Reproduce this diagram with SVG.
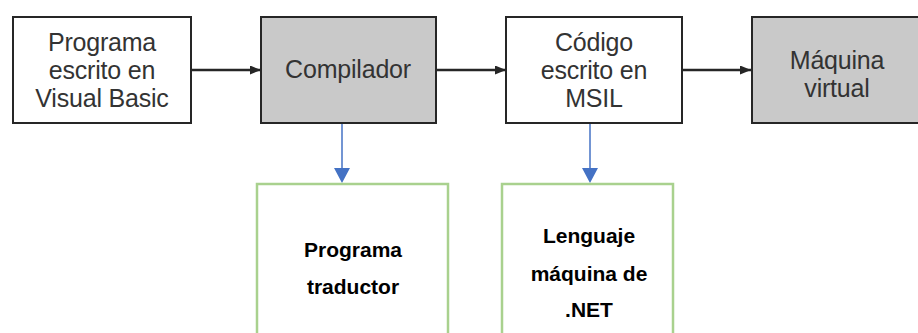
<svg xmlns="http://www.w3.org/2000/svg" width="918" height="333" viewBox="0 0 918 333">
<style>
.box{stroke:#262626;stroke-width:2}
.w{fill:#ffffff}
.g{fill:#c9c9c9}
.t{font-family:"Liberation Sans",Arial,sans-serif;font-size:25px;fill:#333333;text-anchor:middle;letter-spacing:-0.2px}
.gb{fill:#ffffff;stroke:#a9d18e;stroke-width:2.5}
.bt{font-family:"Liberation Sans",Arial,sans-serif;font-size:21px;font-weight:bold;fill:#000000;text-anchor:middle}
.blk{stroke:#262626;stroke-width:2.5;fill:none}
.blu{stroke:#4472c4;stroke-width:1.5;fill:none}
</style>
<defs>
<marker id="ah" markerWidth="11" markerHeight="9" refX="11" refY="4.5" orient="auto" markerUnits="userSpaceOnUse">
<path d="M0,0 L11,4.5 L0,9 Z" fill="#262626"/>
</marker>
</defs>
<rect width="918" height="333" fill="#ffffff"/>
<g id="connectors">
<line class="blk" x1="192" y1="70" x2="261" y2="70" marker-end="url(#ah)"/>
<line class="blk" x1="436" y1="70" x2="506" y2="70" marker-end="url(#ah)"/>
<line class="blk" x1="682" y1="70" x2="751" y2="70" marker-end="url(#ah)"/>
<line class="blu" x1="342" y1="123" x2="342" y2="168"/>
<path d="M334,168 L350,168 L342,183 Z" fill="#4472c4"/>
<line class="blu" x1="590" y1="123" x2="590" y2="168"/>
<path d="M582,168 L598,168 L590,183 Z" fill="#4472c4"/>
</g>
<g id="n1">
<rect class="box w" x="13" y="17" width="178" height="106"/>
<text class="t" x="102" y="51">Programa</text>
<text class="t" x="102" y="79">escrito en</text>
<text class="t" x="102" y="107">Visual Basic</text>
</g>
<g id="n2">
<rect class="box g" x="261" y="17" width="175" height="106"/>
<text class="t" x="348" y="78">Compilador</text>
</g>
<g id="n3">
<rect class="box w" x="506" y="17" width="176" height="106"/>
<text class="t" x="594" y="51">Código</text>
<text class="t" x="594" y="79">escrito en</text>
<text class="t" x="594" y="107">MSIL</text>
</g>
<g id="n4">
<rect class="box g" x="752" y="17" width="170" height="106"/>
<text class="t" x="837" y="69">Máquina</text>
<text class="t" x="837" y="97">virtual</text>
</g>
<g id="n5">
<rect class="gb" x="257" y="184" width="191" height="160"/>
<text class="bt" x="353" y="257">Programa</text>
<text class="bt" x="353" y="294">traductor</text>
</g>
<g id="n6">
<rect class="gb" x="502" y="184" width="171" height="160"/>
<text class="bt" x="589" y="243">Lenguaje</text>
<text class="bt" x="589" y="281">máquina de</text>
<text class="bt" x="589" y="317">.NET</text>
</g>
</svg>
